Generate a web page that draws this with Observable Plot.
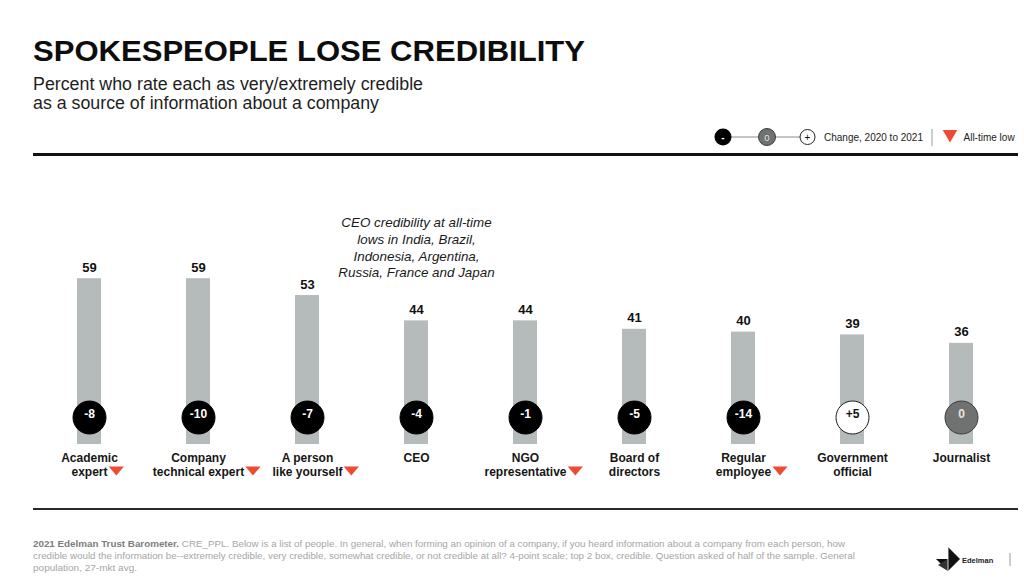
<!DOCTYPE html>
<html>
<head>
<meta charset="utf-8">
<script src="https://cdn.jsdelivr.net/npm/d3@7"></script>
<script src="https://cdn.jsdelivr.net/npm/@observablehq/plot@0.6"></script>
<style>
  html, body { margin: 0; padding: 0; background: #fff; }
  #page { position: relative; width: 1024px; height: 578px; overflow: hidden; font-family: "Liberation Sans", Arial, sans-serif; color: #111; }
  .fit { position: absolute; white-space: nowrap; transform-origin: 0 50%; display: inline-block; }
  #title { left: 33px; top: 37px; font-size: 29px; line-height: 29px; font-weight: bold; color: #0d0d0d; }
  .sub { left: 33px; font-size: 17.5px; line-height: 19px; color: #1e1e1e; }
  .foot { left: 33px; font-size: 9.5px; line-height: 12px; color: #a6a6a6; }
  .foot b { color: #7d7d7d; }
  #rule1 { position: absolute; left: 33px; top: 153px; width: 985px; height: 3px; background: #111; }
  #rule2 { position: absolute; left: 33px; top: 508px; width: 985px; height: 2px; background: #2a2a2a; }
  #chart { position: absolute; left: 0; top: 150px; }
  #legend { position: absolute; left: 700px; top: 120px; }
  #logo { position: absolute; left: 930px; top: 544px; }
</style>
</head>
<body>
<div id="page">
  <div id="title" class="fit" data-w="552">SPOKESPEOPLE LOSE CREDIBILITY</div>
  <div class="fit sub" style="top:75px" data-w="390">Percent who rate each as very/extremely credible</div>
  <div class="fit sub" style="top:94px" data-w="346">as a source of information about a company</div>

  <svg id="legend" width="324" height="34" font-family="Liberation Sans, Arial, sans-serif">
    <line x1="23" y1="17" x2="107" y2="17" stroke="#8a8a8a" stroke-width="1"/>
    <circle cx="23" cy="17" r="8.5" fill="#000"/>
    <text x="23" y="20.5" text-anchor="middle" font-size="10" font-weight="bold" fill="#fff">-</text>
    <circle cx="67" cy="17" r="8.5" fill="#6f7271" stroke="#3c3c3c" stroke-width="1"/>
    <text x="67" y="20.5" text-anchor="middle" font-size="9.5" fill="#e2e2e2">0</text>
    <circle cx="107.5" cy="17" r="7.5" fill="#fff" stroke="#222" stroke-width="1"/>
    <text x="107.5" y="20.5" text-anchor="middle" font-size="10" fill="#111">+</text>
    <text x="124" y="20.5" font-size="10" fill="#222">Change, 2020 to 2021</text>
    <line x1="232" y1="9" x2="232" y2="26" stroke="#9a9a9a" stroke-width="1"/>
    <polygon points="242.7,10 257.3,10 250,22.5" fill="#ee4b33"/>
    <text x="263.5" y="20.5" font-size="10" fill="#222">All-time low</text>
  </svg>

  <div id="rule1"></div>
  <div id="chart"></div>
  <div id="rule2"></div>

  <div class="fit foot" style="top:538px" data-w="812"><b>2021 Edelman Trust Barometer.</b> CRE_PPL. Below is a list of people. In general, when forming an opinion of a company, if you heard information about a company from each person, how</div>
  <div class="fit foot" style="top:550px" data-w="822">credible would the information be--extremely credible, very credible, somewhat credible, or not credible at all? 4-point scale; top 2 box, credible. Question asked of half of the sample. General</div>
  <div class="fit foot" style="top:562px" data-w="104">population, 27-mkt avg.</div>

  <svg id="logo" width="90" height="30" font-family="Liberation Sans, Arial, sans-serif">
    <polygon points="18,3 18,15 30,15" fill="#111"/>
    <polygon points="6,15 30,15 18,27" fill="#111"/>
    <polygon points="18,15 18,27 8,21" fill="#333"/>
    <line x1="18" y1="3" x2="18" y2="28" stroke="#fff" stroke-width="0.8"/>
    <text x="32" y="19" font-size="7.5" font-weight="bold" fill="#222">Edelman</text>
    <line x1="80" y1="9" x2="80" y2="22" stroke="#999" stroke-width="1"/>
  </svg>
</div>

<script>
// ---- Data ----
const categories = [
  "Academic\nexpert",
  "Company\ntechnical expert",
  "A person\nlike yourself",
  "CEO",
  "NGO\nrepresentative",
  "Board of\ndirectors",
  "Regular\nemployee",
  "Government\nofficial",
  "Journalist"
];
const credibility = [59, 59, 53, 44, 44, 41, 40, 39, 36];
const change2020to2021 = [-8, -10, -7, -4, -1, -5, -14, 5, 0];
const allTimeLow = [true, true, true, false, true, false, true, false, false];
const annotationCategory = "CEO";
const annotationText = "CEO credibility at all-time\nlows in India, Brazil,\nIndonesia, Argentina,\nRussia, France and Japan";

// ---- Table built from the arrays ----
const rows = categories.map((label, i) => ({
  label,
  value: credibility[i],
  change: change2020to2021[i],
  low: allTimeLow[i]
}));
const lowRows = rows.filter(d => d.low);

const RED = "#ee4b33";
const labelFont = "bold 12px 'Liberation Sans', Arial, sans-serif";
const measureCtx = document.createElement("canvas").getContext("2d");
measureCtx.font = labelFont;
const lastLineHalf = (label) => {
  const lines = label.split("\n");
  return measureCtx.measureText(lines[lines.length - 1]).width / 2;
};

const downTriangle = {
  draw(context) {
    context.moveTo(-7.6, -3);
    context.lineTo(7.6, -3);
    context.lineTo(0, 6);
    context.closePath();
  }
};

const fmtChange = c => c > 0 ? `+${c}` : `${c}`;

const chart = Plot.plot({
  width: 1024,
  height: 365,
  marginTop: 13,
  marginBottom: 71,
  marginLeft: 0,
  marginRight: 0,
  style: { background: "transparent", fontFamily: "'Liberation Sans', Arial, sans-serif", overflow: "visible" },
  x: { type: "band", domain: categories, range: [32, 1018], paddingInner: 0.78, paddingOuter: 0.39, axis: null },
  y: { domain: [0, 100], axis: null },
  marks: [
    Plot.barY(rows, { x: "label", y: "value", fill: "#b5bbba" }),
    Plot.text(rows, {
      x: "label", y: "value", text: d => String(d.value),
      lineAnchor: "bottom", dy: -7, fontSize: 13, fontWeight: "bold", fill: "#111"
    }),
    Plot.dot(rows, {
      x: "label", frameAnchor: "bottom", dy: -27, r: 16.5,
      fill: d => d.change < 0 ? "#000000" : d.change > 0 ? "#ffffff" : "#6f7271",
      stroke: d => d.change < 0 ? "#000000" : d.change > 0 ? "#1a1a1a" : "#3c3c3c",
      strokeWidth: 1
    }),
    Plot.text(rows, {
      x: "label", frameAnchor: "bottom", dy: -27, text: d => fmtChange(d.change),
      fontSize: 12, fontWeight: "bold",
      fill: d => d.change < 0 ? "#ffffff" : d.change > 0 ? "#111111" : "#e4e4e4"
    }),
    Plot.text(rows, {
      x: "label", frameAnchor: "bottom", text: "label",
      lineAnchor: "top", dy: 8.5, fontSize: 12, fontWeight: "bold", lineHeight: 1.1, fill: "#161616"
    }),
    Plot.dot(lowRows, {
      x: "label", frameAnchor: "bottom", dy: 25, symbol: downTriangle, r: 5, fill: RED, stroke: "none",
      render(index, scales, values, dimensions, context, next) {
        const X = Array.from(values.x, (x, i) => x + lastLineHalf(lowRows[i].label) + 8.8);
        return next(index, scales, { ...values, x: X }, dimensions, context);
      }
    }),
    Plot.text([{ label: annotationCategory, text: annotationText }], {
      x: "label", frameAnchor: "top", text: "text", lineAnchor: "top", dy: 52,
      fontSize: 13.4, fontStyle: "italic", lineHeight: 1.24, fill: "#1a1a1a"
    })
  ]
});
document.getElementById("chart").appendChild(chart);

// fit HTML text lines to their measured widths in the reference
function fitAll() {
  document.querySelectorAll(".fit").forEach(el => {
    el.style.transform = "none";
    const w = el.getBoundingClientRect().width;
    const target = +el.dataset.w;
    if (w > 0 && target) el.style.transform = `scaleX(${(target / w).toFixed(4)})`;
  });
}
fitAll();
if (document.fonts && document.fonts.ready) document.fonts.ready.then(fitAll);
</script>
</body>
</html>
